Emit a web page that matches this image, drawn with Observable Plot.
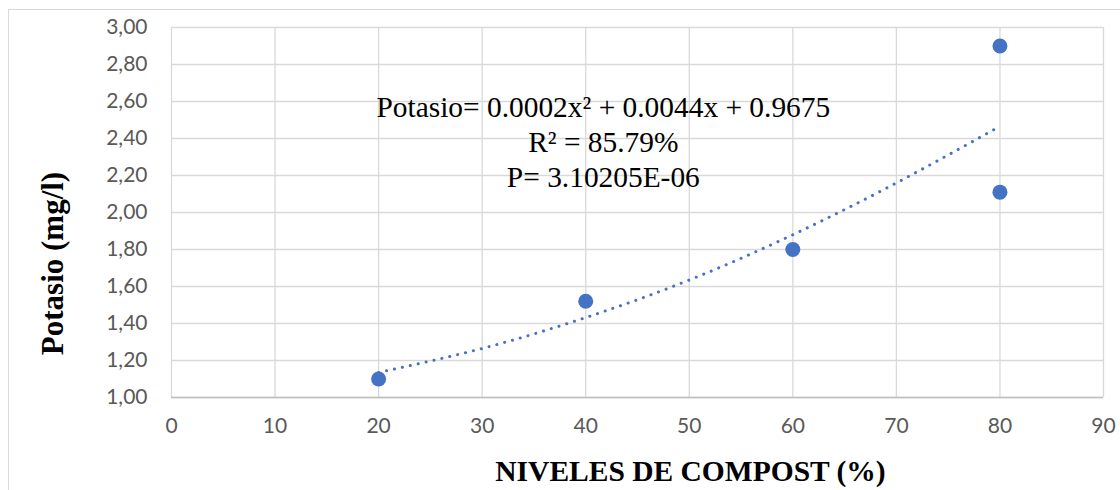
<!DOCTYPE html>
<html>
<head>
<meta charset="utf-8">
<script src="https://cdn.jsdelivr.net/npm/d3@7"></script>
<script src="https://cdn.jsdelivr.net/npm/@observablehq/plot@0.6"></script>
<style>
  html, body { margin: 0; padding: 0; background: #ffffff; }
  #wrap { position: relative; width: 1120px; height: 490px; overflow: hidden; }
  #border { position: absolute; left: 8px; top: 9px; width: 1200px; height: 600px; border: 1.5px solid #d9d9d9; box-sizing: border-box; pointer-events: none; }
  #chart { position: absolute; left: 0; top: 0; }
</style>
</head>
<body>
<div id="wrap"><div id="border"></div><div id="chart"></div></div>
<script>
// Observed data
const nivel = [20, 40, 60, 80, 80];
const potasio = [1.10, 1.52, 1.80, 2.90, 2.11];

// Polynomial trendline
const trendNivel = [20, 30, 40, 50, 60, 70, 80];
const trendPotasio = [1.135, 1.265, 1.432, 1.635, 1.88, 2.16, 2.466];

// Ticks
const xTicks = [0, 10, 20, 30, 40, 50, 60, 70, 80, 90];
const yTicks = [1.0, 1.2, 1.4, 1.6, 1.8, 2.0, 2.2, 2.4, 2.6, 2.8, 3.0];

// Texts
const equationLines = ["Potasio= 0.0002x\u00b2 + 0.0044x + 0.9675", "R\u00b2 = 85.79%", "P= 3.10205E-06"];
const xTitle = "NIVELES DE COMPOST (%)";
const yTitle = "Potasio (mg/l)";

const points = nivel.map((x, i) => ({x, y: potasio[i]}));
const trend = trendNivel.map((x, i) => ({x, y: trendPotasio[i]}));

const blue = "#4472C4";
const grid = "#d9d9d9";
const fmt = v => d3.format(".2f")(v).replace(".", ",");

const chart = Plot.plot({
  width: 1120,
  height: 490,
  marginLeft: 171,
  marginRight: 17,
  marginTop: 27,
  marginBottom: 93,
  style: {background: "transparent", overflow: "visible"},
  x: {domain: [0, 90], ticks: xTicks},
  y: {domain: [1, 3], ticks: yTicks},
  marks: [
    Plot.gridX(xTicks, {stroke: grid, strokeOpacity: 1, strokeWidth: 1.3}),
    Plot.gridY(yTicks, {stroke: grid, strokeOpacity: 1, strokeWidth: 1.3}),
    Plot.ruleY([1], {stroke: "#bfbfbf", strokeWidth: 1.5}),
    Plot.axisX(xTicks, {tickSize: 0, tickPadding: 21, label: null, fontSize: 21, fontFamily: "Lato", fill: "#595959"}),
    Plot.axisY(yTicks, {tickSize: 0, tickPadding: 24, label: null, fontSize: 21, fontFamily: "Lato", fill: "#595959", tickFormat: fmt}),
    Plot.dot(points, {x: "x", y: "y", r: 7.5, fill: blue, stroke: null}),
    Plot.line(trend, {x: "x", y: "y", curve: "natural", stroke: blue, strokeWidth: 3, strokeDasharray: "0.1 8", strokeLinecap: "round"}),
    Plot.text([equationLines.join("\n")], {
      x: () => 41.7, y: () => 2.14, text: d => d,
      textAnchor: "middle", lineAnchor: "bottom", lineHeight: 1.18,
      fontSize: 29.4, fontFamily: "Liberation Serif", fill: "#000"
    }),
    Plot.text([xTitle], {
      frameAnchor: "bottom", dx: 53, dy: 83, text: d => d, textAnchor: "middle", lineAnchor: "bottom",
      fontSize: 29.5, fontWeight: "bold", fontFamily: "Liberation Serif", fill: "#000"
    }),
    Plot.text([yTitle], {
      frameAnchor: "left", dx: -109, dy: 51, rotate: -90, text: d => d, textAnchor: "middle", lineAnchor: "bottom",
      fontSize: 31, fontWeight: "bold", fontFamily: "Liberation Serif", fill: "#000"
    })
  ]
});
document.getElementById("chart").appendChild(chart);
</script>
</body>
</html>
